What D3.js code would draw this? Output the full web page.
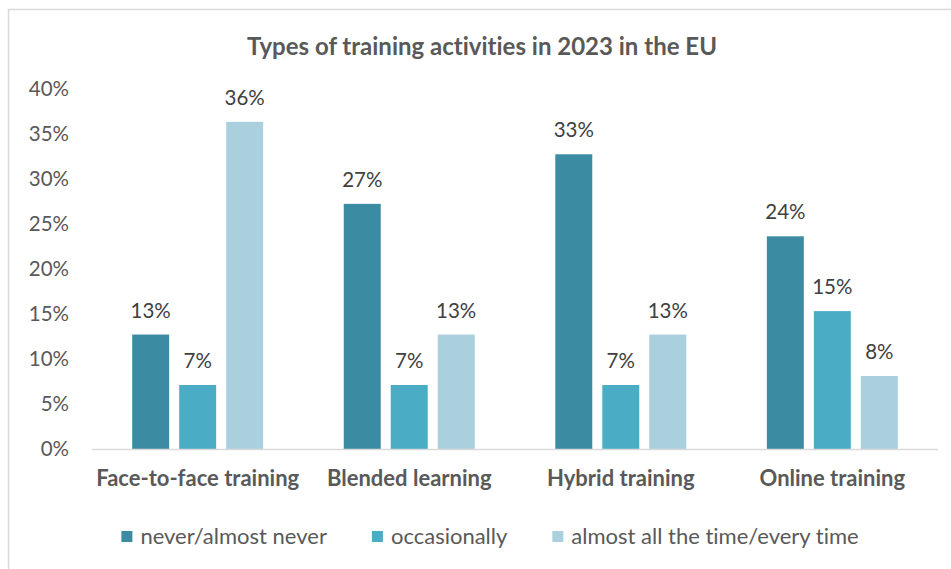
<!DOCTYPE html>
<html>
<head>
<meta charset="utf-8">
<script src="https://cdn.jsdelivr.net/npm/d3@7"></script>
<style>
  html, body { margin: 0; padding: 0; background: #fff; }
  svg { display: block; }
  text { font-family: Lato, "Open Sans", sans-serif; font-variant-ligatures: none; }
</style>
</head>
<body>
<svg id="chart" width="951" height="569"></svg>
<script>
const title = "Types of training activities in 2023 in the EU";
const categories = ["Face-to-face training", "Blended learning", "Hybrid training", "Online training"];
const seriesNames = ["never/almost never", "occasionally", "almost all the time/every time"];
const neverValues = [12.7, 27.2, 32.7, 23.6];
const occasionallyValues = [7.1, 7.1, 7.1, 15.3];
const alwaysValues = [36.3, 12.7, 12.7, 8.1];
const dataLabels = [["13%", "27%", "33%", "24%"], ["7%", "7%", "7%", "15%"], ["36%", "13%", "13%", "8%"]];
const yTicks = [0, 5, 10, 15, 20, 25, 30, 35, 40];
const colors = ["#3b8ba2", "#4bacc6", "#aacfdd"];

(function () {
const seriesValues = [neverValues, occasionallyValues, alwaysValues];

const svg = d3.select("#chart");

// chart area border (top and left edges visible)
svg.append("rect")
  .attr("x", 8.5).attr("y", 9.5)
  .attr("width", 960).attr("height", 580)
  .attr("fill", "#fff")
  .attr("stroke", "#d9d9d9")
  .attr("stroke-width", 1.5);

const plotLeft = 92, plotRight = 938, plotTop = 88.5, plotBottom = 449;

const y = d3.scaleLinear().domain([0, 40]).range([plotBottom, plotTop]);
const x0 = d3.scaleBand().domain(categories).range([plotLeft, plotRight])
  .paddingInner(0.381).paddingOuter(0.19);
const x1 = d3.scaleBand().domain(d3.range(seriesNames.length)).range([0, x0.bandwidth()])
  .paddingInner(0.213);

// title
svg.append("text")
  .attr("x", 482).attr("y", 55)
  .attr("text-anchor", "middle")
  .attr("font-size", 24).attr("font-weight", 700)
  .attr("fill", "#595959")
  .text(title);

// y axis
const yAxis = d3.axisLeft(y).tickValues(yTicks).tickFormat(d => d + "%").tickSize(0).tickPadding(0);
const yg = svg.append("g").attr("transform", `translate(69,0)`).call(yAxis);
yg.select(".domain").remove();
yg.selectAll("text")
  .attr("font-size", 20.5)
  .attr("fill", "#595959")
  .style("font-family", "Lato, 'Open Sans', sans-serif");

// bars
const groups = svg.append("g").selectAll("g")
  .data(categories)
  .join("g")
  .attr("transform", d => `translate(${x0(d)},0)`);

const rows = (d, i) => seriesValues.map((vals, s) => ({ s, v: vals[i], label: dataLabels[s][i] }));

groups.selectAll("rect")
  .data(rows)
  .join("rect")
  .attr("x", d => x1(d.s))
  .attr("width", x1.bandwidth())
  .attr("y", d => y(d.v))
  .attr("height", d => y(0) - y(d.v))
  .attr("fill", d => colors[d.s]);

groups.selectAll("text.lbl")
  .data(rows)
  .join("text")
  .attr("class", "lbl")
  .attr("x", d => x1(d.s) + x1.bandwidth() / 2)
  .attr("y", d => y(d.v) - 17)
  .attr("text-anchor", "middle")
  .attr("font-size", 20.5)
  .attr("fill", "#404040")
  .text(d => d.label);

// x axis baseline
svg.append("line")
  .attr("x1", plotLeft).attr("x2", plotRight)
  .attr("y1", plotBottom + 0.5).attr("y2", plotBottom + 0.5)
  .attr("stroke", "#d9d9d9").attr("stroke-width", 1.5);

// x axis labels
const xAxis = d3.axisBottom(x0).tickSize(0).tickPadding(0);
const xg = svg.append("g").attr("transform", `translate(0,${plotBottom})`).call(xAxis);
xg.select(".domain").remove();
xg.selectAll("text")
  .attr("y", 37).attr("dy", 0)
  .attr("font-size", 22).attr("font-weight", 700)
  .attr("fill", "#595959")
  .style("font-family", "Lato, 'Open Sans', sans-serif");

// legend
const legend = svg.append("g");
const items = legend.selectAll("g").data(seriesNames).join("g");
items.append("rect")
  .attr("width", 11).attr("height", 11)
  .attr("y", 531)
  .attr("fill", (d, i) => colors[i]);
items.append("text")
  .attr("x", 19).attr("y", 544)
  .attr("font-size", 22)
  .attr("fill", "#595959")
  .text(d => d);
const gap = 45;
const widths = items.nodes().map(n => 19 + d3.select(n).select("text").node().getComputedTextLength());
const total = d3.sum(widths) + gap * (widths.length - 1);
let cx = 490 - total / 2;
items.each(function (d, i) {
  d3.select(this).attr("transform", `translate(${cx},0)`);
  cx += widths[i] + gap;
});
})();
</script>
</body>
</html>
